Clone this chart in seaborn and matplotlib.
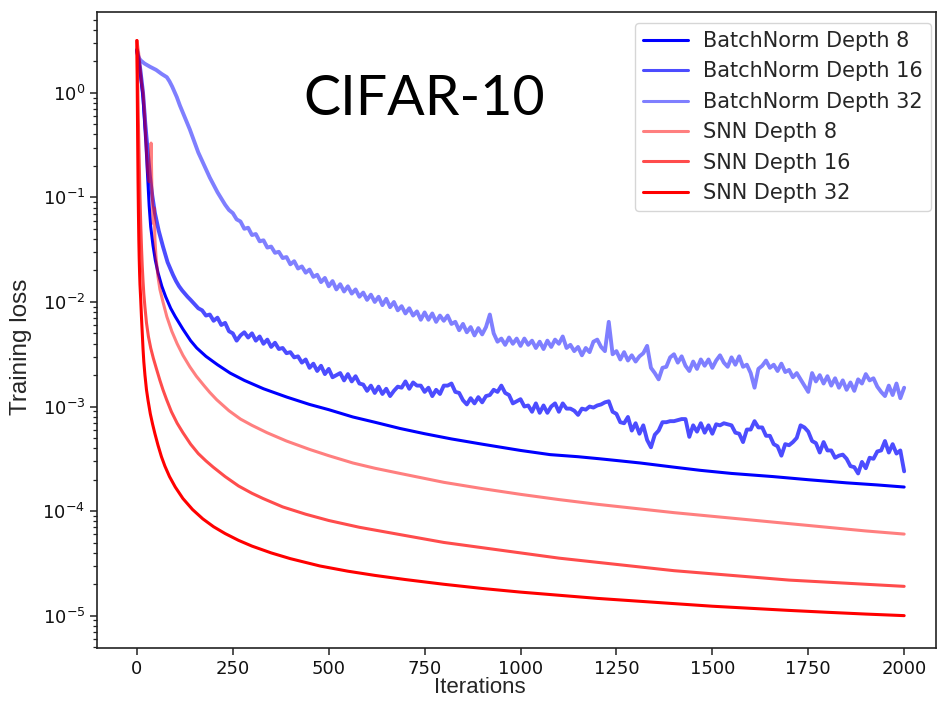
import numpy as np
import pandas as pd
import matplotlib
matplotlib.use("Agg")
import matplotlib.pyplot as plt
import seaborn as sns

# training loss values, stored as log10(loss)

# BatchNorm Depth 8 (smooth)
bn8_iters = [0, 5, 10, 16, 20, 24, 28, 32, 36, 42, 48, 55, 65, 75, 88, 100, 120, 140, 156,
             180, 210, 243, 280, 330, 391, 450, 500, 563, 620, 686, 750, 820, 900, 1000,
             1077, 1150, 1207, 1260, 1312, 1400, 1468, 1550, 1658, 1750, 1850, 1930, 2000]
bn8_log = [0.40, 0.30, 0.15, -0.05, -0.28, -0.52, -0.80, -1.08, -1.28, -1.46, -1.60, -1.72,
           -1.85, -1.95, -2.06, -2.14, -2.26, -2.37, -2.44, -2.52, -2.60, -2.68, -2.75,
           -2.83, -2.91, -2.98, -3.03, -3.10, -3.15, -3.21, -3.26, -3.31, -3.36, -3.42,
           -3.46, -3.48, -3.50, -3.52, -3.54, -3.58, -3.61, -3.64, -3.67, -3.70, -3.73,
           -3.75, -3.77]

# BatchNorm Depth 16 (noisy)
bn16_iters_early = [0, 8, 16, 22, 28, 34, 40, 47, 57, 68, 80, 94, 102, 110, 118, 125, 132, 140]
bn16_log_early = [0.41, 0.25, 0.0, -0.30, -0.55, -0.80, -0.98, -1.15, -1.32, -1.47, -1.62,
                  -1.74, -1.80, -1.85, -1.89, -1.92, -1.95, -1.98]
noisy_iters = list(range(150, 2001, 10))
bn16_log_late = [
    -2.02, -2.06, -2.08, -2.13, -2.12, -2.18, -2.15, -2.22, -2.20, -2.28,
    -2.30, -2.37, -2.32, -2.29, -2.34, -2.30, -2.37, -2.33, -2.40, -2.36,
    -2.43, -2.39, -2.45, -2.44, -2.49, -2.48, -2.53, -2.52, -2.58, -2.55,
    -2.63, -2.59, -2.66, -2.61, -2.69, -2.64, -2.72, -2.70, -2.68, -2.75,
    -2.69, -2.76, -2.71, -2.78, -2.79, -2.85, -2.80, -2.87, -2.81, -2.88,
    -2.83, -2.90, -2.85, -2.81, -2.82, -2.76, -2.83, -2.77, -2.80, -2.80,
    -2.86, -2.82, -2.90, -2.84, -2.88, -2.80, -2.80, -2.78, -2.86, -2.87,
    -2.94, -2.98, -2.92, -2.97, -2.91, -2.96, -2.90, -2.89, -2.84, -2.86,
    -2.80, -2.87, -2.89, -2.97, -2.95, -2.93, -3.00, -2.99, -3.05, -2.97,
    -3.06, -2.99, -3.06, -3.00, -2.97, -3.05, -2.97, -3.02, -3.02, -3.04,
    -3.08, -3.02, -3.03, -3.00, -3.01, -2.99, -2.98, -2.96, -2.95, -3.05,
    -3.07, -3.15, -3.16, -3.10, -3.23, -3.16, -3.26, -3.18, -3.32, -3.39,
    -3.27, -3.23, -3.15, -3.15, -3.14, -3.14, -3.13, -3.12, -3.12, -3.29,
    -3.18, -3.24, -3.16, -3.25, -3.18, -3.26, -3.17, -3.18, -3.16, -3.17,
    -3.18, -3.25, -3.26, -3.34, -3.22, -3.22, -3.14, -3.20, -3.20, -3.28,
    -3.28, -3.36, -3.38, -3.47, -3.36, -3.37, -3.34, -3.30, -3.18, -3.20,
    -3.24, -3.33, -3.35, -3.44, -3.34, -3.42, -3.42, -3.49, -3.47, -3.46,
    -3.50, -3.57, -3.58, -3.64, -3.53, -3.59, -3.49, -3.50, -3.43, -3.42,
    -3.33, -3.44, -3.36, -3.45, -3.42, -3.62,
]

# BatchNorm Depth 32 (noisy)
bn32_iters_early = [0, 3, 6, 10, 20, 34, 50, 65, 78, 85, 92, 98, 104, 112, 120, 130, 138, 145]
bn32_log_early = [0.41, 0.36, 0.33, 0.31, 0.28, 0.25, 0.22, 0.18, 0.15, 0.11, 0.06, 0.01,
                  -0.04, -0.12, -0.19, -0.28, -0.35, -0.42]
bn32_log_late = [
    -0.47, -0.57, -0.65, -0.73, -0.81, -0.88, -0.95, -1.01, -1.07, -1.12,
    -1.15, -1.21, -1.23, -1.30, -1.29, -1.36, -1.35, -1.42, -1.41, -1.48,
    -1.47, -1.53, -1.52, -1.58, -1.57, -1.64, -1.61, -1.68, -1.66, -1.72,
    -1.69, -1.76, -1.74, -1.81, -1.77, -1.85, -1.80, -1.88, -1.83, -1.90,
    -1.85, -1.92, -1.88, -1.95, -1.91, -1.98, -1.93, -2.00, -1.95, -2.03,
    -1.97, -2.05, -2.00, -2.08, -2.04, -2.11, -2.06, -2.13, -2.09, -2.17,
    -2.10, -2.17, -2.11, -2.19, -2.13, -2.18, -2.13, -2.21, -2.19, -2.27,
    -2.21, -2.29, -2.24, -2.32, -2.25, -2.31, -2.24, -2.12, -2.30, -2.38,
    -2.35, -2.41, -2.34, -2.40, -2.35, -2.42, -2.35, -2.41, -2.37, -2.44,
    -2.38, -2.45, -2.37, -2.43, -2.36, -2.40, -2.33, -2.44, -2.41, -2.47,
    -2.43, -2.51, -2.44, -2.48, -2.38, -2.36, -2.43, -2.47, -2.19, -2.50,
    -2.47, -2.55, -2.48, -2.56, -2.51, -2.57, -2.52, -2.49, -2.42, -2.63,
    -2.68, -2.74, -2.63, -2.62, -2.53, -2.50, -2.58, -2.52, -2.61, -2.66,
    -2.57, -2.64, -2.55, -2.61, -2.55, -2.63, -2.56, -2.51, -2.58, -2.62,
    -2.53, -2.60, -2.52, -2.62, -2.60, -2.68, -2.82, -2.64, -2.61, -2.56,
    -2.63, -2.60, -2.66, -2.59, -2.67, -2.65, -2.72, -2.68, -2.74, -2.80,
    -2.86, -2.68, -2.76, -2.70, -2.78, -2.71, -2.80, -2.73, -2.82, -2.75,
    -2.84, -2.77, -2.85, -2.74, -2.78, -2.69, -2.75, -2.73, -2.81, -2.86,
    -2.90, -2.80, -2.89, -2.78, -2.92, -2.82,
]

# SNN Depth 8 (smooth, with an early spike)
snn8_iters = [0, 4, 8, 12, 16, 20, 24, 28, 32, 35, 37, 39, 41, 43, 45, 47, 50, 55, 60, 68,
              78, 91, 105, 120, 138, 155, 175, 190, 208, 240, 270, 300, 339, 390, 450, 500,
              563, 620, 686, 800, 900, 1000, 1100, 1200, 1300, 1400, 1500, 1600, 1700,
              1800, 1900, 2000]
snn8_log = [0.50, 0.40, 0.25, 0.10, 0.00, -0.20, -0.50, -0.75, -0.85, -0.70, -0.48, -0.90,
            -1.10, -1.25, -1.10, -1.40, -1.58, -1.76, -1.88, -2.00, -2.14, -2.28, -2.40,
            -2.51, -2.62, -2.71, -2.80, -2.865, -2.935, -3.04, -3.12, -3.18, -3.25, -3.33,
            -3.41, -3.47, -3.54, -3.59, -3.64, -3.725, -3.785, -3.84, -3.89, -3.935, -3.975,
            -4.015, -4.05, -4.085, -4.12, -4.155, -4.19, -4.22]

# SNN Depth 16
snn16_iters = [0, 2, 4, 6, 8, 10, 12, 14, 16, 18, 21, 25, 30, 36, 43, 51, 60, 68, 77, 90,
               105, 120, 140, 160, 180, 199, 230, 265, 300, 329, 380, 440, 500, 580, 686,
               800, 900, 1000, 1100, 1200, 1300, 1400, 1500, 1600, 1700, 1800, 1900, 2000]
snn16_log = [0.50, 0.10, -0.30, -0.65, -0.98, -1.25, -1.48, -1.66, -1.80, -1.92, -2.05,
             -2.20, -2.33, -2.44, -2.54, -2.64, -2.75, -2.84, -2.93, -3.05, -3.16, -3.25,
             -3.36, -3.45, -3.52, -3.58, -3.67, -3.76, -3.83, -3.88, -3.96, -4.03, -4.09,
             -4.155, -4.225, -4.30, -4.35, -4.40, -4.45, -4.49, -4.53, -4.57, -4.60, -4.63,
             -4.66, -4.68, -4.70, -4.72]

# SNN Depth 32
snn32_iters = [0, 1, 2, 3, 4, 5, 6, 7, 8, 10, 12, 14, 16, 18, 21, 25, 29, 35, 41, 47, 55,
               64, 73, 85, 100, 120, 145, 172, 200, 230, 265, 300, 350, 400, 477, 550, 620,
               700, 800, 900, 1000, 1100, 1200, 1300, 1400, 1500, 1600, 1700, 1800, 1900,
               2000]
snn32_log = [0.50, 0.00, -0.45, -0.85, -1.15, -1.40, -1.58, -1.72, -1.83, -1.98, -2.15,
             -2.30, -2.45, -2.57, -2.70, -2.84, -2.94, -3.07, -3.17, -3.26, -3.37, -3.48,
             -3.57, -3.67, -3.77, -3.88, -3.985, -4.075, -4.15, -4.215, -4.28, -4.335, -4.40,
             -4.455, -4.525, -4.575, -4.615, -4.655, -4.70, -4.74, -4.775, -4.805, -4.835,
             -4.86, -4.885, -4.91, -4.93, -4.95, -4.968, -4.985, -5.00]

x_ticks = [0, 250, 500, 750, 1000, 1250, 1500, 1750, 2000]

assert len(bn16_log_late) == len(noisy_iters)
assert len(bn32_log_late) == len(noisy_iters)

series = [
    ("BatchNorm Depth 8", bn8_iters, bn8_log, "blue", 1.0, 2.2),
    ("BatchNorm Depth 16", bn16_iters_early + noisy_iters, bn16_log_early + bn16_log_late, "blue", 0.7, 2.8),
    ("BatchNorm Depth 32", bn32_iters_early + noisy_iters, bn32_log_early + bn32_log_late, "blue", 0.5, 2.8),
    ("SNN Depth 8", snn8_iters, snn8_log, "red", 0.5, 2.2),
    ("SNN Depth 16", snn16_iters, snn16_log, "red", 0.7, 2.2),
    ("SNN Depth 32", snn32_iters, snn32_log, "red", 1.0, 2.2),
]

sns.set_style("ticks")
plt.rcParams["font.family"] = ["DejaVu Sans"]
plt.rcParams["mathtext.fontset"] = "dejavusans"

fig = plt.figure(figsize=(9.39, 7.03), dpi=100)
ax = fig.add_axes([0.1033, 0.0782, 0.8935, 0.905])

for name, iters, logs, col, a, lw in series:
    df = pd.DataFrame({"iteration": iters, "loss": np.power(10.0, logs)})
    sns.lineplot(data=df, x="iteration", y="loss", color=col, alpha=a, lw=lw,
                 label=name, ax=ax, legend=False)

ax.set_yscale("log")
ax.set_xlim(-104, 2083)
ax.set_ylim(4.9e-6, 5.96)
ax.set_xticks(x_ticks)

for s in ax.spines.values():
    s.set_color("#222222")
    s.set_linewidth(1.2)
ax.tick_params(axis="both", which="major", labelsize=13, length=5, width=1.1, colors="#222222",
               labelcolor="#111111")
ax.tick_params(axis="y", which="minor", length=3, width=0.9, colors="#222222")

ax.set_xlabel("Iterations", fontsize=16, family=["Liberation Sans", "DejaVu Sans"])
ax.xaxis.set_label_coords(0.4565, -0.046)
ax.set_ylabel("Training loss", fontsize=17.5, family=["Liberation Sans", "DejaVu Sans"])
ax.yaxis.set_label_coords(-0.078, 0.473)

handles, labels = ax.get_legend_handles_labels()
leg = ax.legend(handles, labels, loc="upper right", bbox_to_anchor=(0.994, 0.983),
                borderaxespad=0, fontsize=15, handlelength=2.15, handletextpad=0.72,
                labelspacing=0.5, frameon=True)
leg.get_frame().set_edgecolor("#cccccc")
for h in leg.get_lines():
    h.set_linewidth(2.2)

fig.text(0.4515, 0.858, "CIFAR-10", fontsize=40, family=["Lato", "DejaVu Sans"],
         ha="center", va="center", color="black")

fig.savefig("out.png", dpi=100)
